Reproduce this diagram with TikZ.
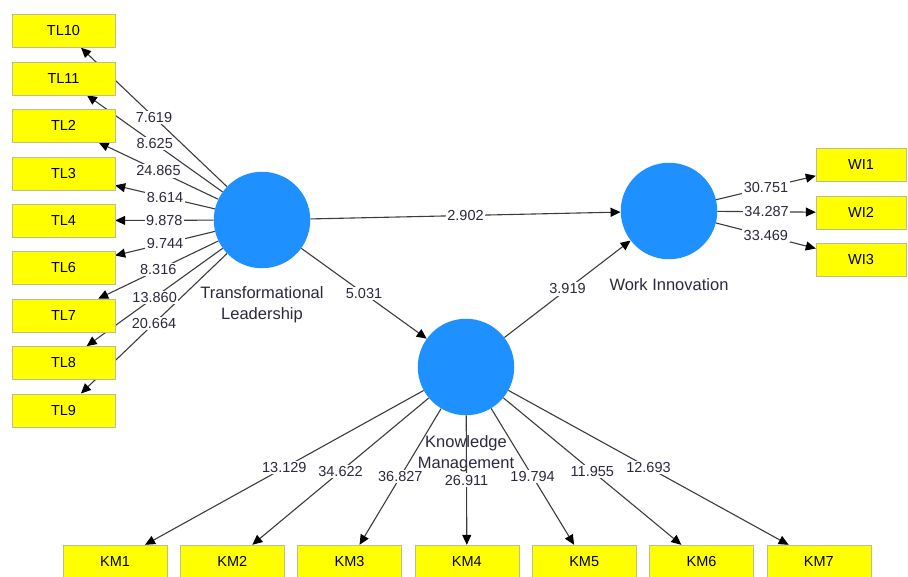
\documentclass[tikz,border=0pt]{standalone}
\usepackage{fontspec}
\setmainfont{Liberation Sans}
\usetikzlibrary{arrows.meta,positioning,backgrounds}
\definecolor{lvblue}{RGB}{30,144,255}
\definecolor{indyellow}{RGB}{255,255,0}
\definecolor{indborder}{RGB}{190,190,140}
\definecolor{pathgray}{RGB}{60,60,60}
\definecolor{txtdark}{RGB}{45,40,60}
\newcommand{\pathcoef}[3]{\begin{pgfonlayer}{background}
\draw[pathline] (#1) -- (#2);
\end{pgfonlayer}
\path (#1) -- (#2) node[coef]{#3};}
\tikzset{
  latent/.style={circle, fill=lvblue, minimum size=96.5pt, inner sep=0pt},
  ind/.style={rectangle, draw=indborder, fill=indyellow, minimum width=103pt,
    minimum height=33pt, inner sep=0pt, font=\fontsize{14.5}{17}\selectfont},
  pathline/.style={draw=pathgray, line width=1.1pt,
    -{Triangle[length=10pt,width=9pt,color=black]}},
  coef/.style={midway, fill=white, inner sep=1.5pt, text=txtdark,
    font=\fontsize{14.5}{17}\selectfont},
  lvname/.style={align=center, inner sep=0pt, text=txtdark,
    font=\fontsize{16.5}{21}\selectfont}
}

\begin{document}
\begin{tikzpicture}[x=1pt, y=-1pt]
  \useasboundingbox (0,0) rectangle (908,576);
  % constructs
  \node[latent] (TL) at (262,220) {};
  \node[latent] (WI) at (669,211) {};
  \node[latent] (KM) at (466,367) {};
  \node[lvname, below=18pt of TL] (TLname) {Transformational\\Leadership};
  \node[lvname, below=19pt of WI] (WIname) {Work Innovation};
  \node[lvname, below=20pt of KM] (KMname) {Knowledge\\Management};
  % indicators
  \foreach \n [count=\i] in {TL10,TL11,TL2,TL3,TL4,TL6,TL7,TL8,TL9}
    \node[ind] (\n) at (63.5,{31+47.4*(\i-1)}) {\n};
  \foreach \n [count=\i] in {WI1,WI2,WI3}
    \node[ind, minimum width=90pt] (\n) at (861,{165+47.5*(\i-1)}) {\n};
  \foreach \n [count=\i] in {KM1,KM2,KM3,KM4,KM5,KM6,KM7}
    \node[ind, minimum width=104pt] (\n) at ({115+117.3*(\i-1)},561.5) {\n};
  % inner model
  \pathcoef{TL}{WI}{2.902}
  \pathcoef{TL}{KM}{5.031}
  \pathcoef{KM}{WI}{3.919}
  % outer model
  \foreach \n/\v in {TL10/7.619,TL11/8.625,TL2/24.865,TL3/8.614,TL4/9.878,
      TL6/9.744,TL7/8.316,TL8/13.860,TL9/20.664}
    {\pathcoef{TL}{\n}{\v}}
  \foreach \n/\v in {WI1/30.751,WI2/34.287,WI3/33.469}
    {\pathcoef{WI}{\n}{\v}}
  \foreach \n/\v in {KM1/13.129,KM2/34.622,KM3/36.827,KM4/26.911,
      KM5/19.794,KM6/11.955,KM7/12.693}
    {\pathcoef{KM}{\n}{\v}}
\end{tikzpicture}
\end{document}
